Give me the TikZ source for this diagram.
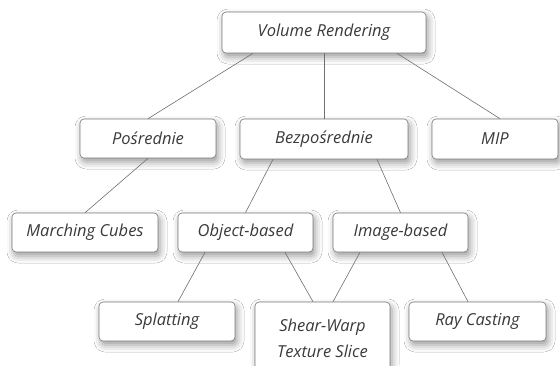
\documentclass[tikz,border=0pt]{standalone}
\usepackage{fontspec}
\setmainfont{Open Sans}
\usetikzlibrary{shadows.blur}
\definecolor{txt}{HTML}{3A3A3A}
\definecolor{edge}{HTML}{7A7A7A}
\definecolor{conn}{HTML}{707070}
\tikzset{
  box/.style={draw=edge, line width=0.6pt, fill=white, rounded corners=4pt,
    minimum height=39pt, inner sep=0pt, text=txt,
    font=\fontsize{16.5pt}{26pt}\selectfont\itshape, align=center,
    blur shadow={shadow xshift=2pt, shadow yshift=-4pt, shadow blur radius=7pt, shadow opacity=40}},
  link/.style={draw=conn, line width=0.6pt}
}
\begin{document}
\begin{tikzpicture}[x=1pt,y=1pt]
\useasboundingbox (0,0) rectangle (560,-365);
\clip (0,0) rectangle (560,-365);
\fill[white] (0,0) rectangle (560,-365);
\node[box, minimum width=204pt, minimum height=41pt] (vr) at (324,-32.5) {Volume Rendering};
\node[box, minimum width=136pt] (po) at (148,-138.5) {Pośrednie};
\node[box, minimum width=168pt, minimum height=40pt] (bez) at (324,-139) {Bezpośrednie};
\node[box, minimum width=126pt, minimum height=40pt] (mip) at (495,-139) {MIP};
\node[box, minimum width=146pt] (mc) at (85,-232.5) {Marching Cubes};
\node[box, minimum width=135pt] (ob) at (245.5,-232.5) {Object-based};
\node[box, minimum width=135pt] (ib) at (400.5,-232.5) {Image-based};
\node[box, minimum width=136pt] (sp) at (167,-321.5) {Splatting};
\node[box, minimum width=135pt, minimum height=72pt] (sw) at (322.5,-338) {Shear-Warp\\Texture Slice};
\node[box, minimum width=137pt] (rc) at (477.5,-321.5) {Ray Casting};
\draw[link] ([xshift=-71pt]vr.south) -- (po.north);
\draw[link] (vr.south) -- (bez.north);
\draw[link] ([xshift=73pt]vr.south) -- ([xshift=5pt]mip.north);
\draw[link] (po.south) -- (mc.north);
\draw[link] ([xshift=-51pt]bez.south) -- (ob.north);
\draw[link] ([xshift=53pt]bez.south) -- (ib.north);
\draw[link] ([xshift=-40.5pt]ob.south) -- ([xshift=11pt]sp.north);
\draw[link] ([xshift=39.5pt]ob.south) -- ([xshift=-9.5pt]sw.north);
\draw[link] ([xshift=-40.5pt]ib.south) -- ([xshift=10.5pt]sw.north);
\draw[link] ([xshift=41.5pt]ib.south) -- ([xshift=-9.5pt]rc.north);
\end{tikzpicture}
\end{document}
